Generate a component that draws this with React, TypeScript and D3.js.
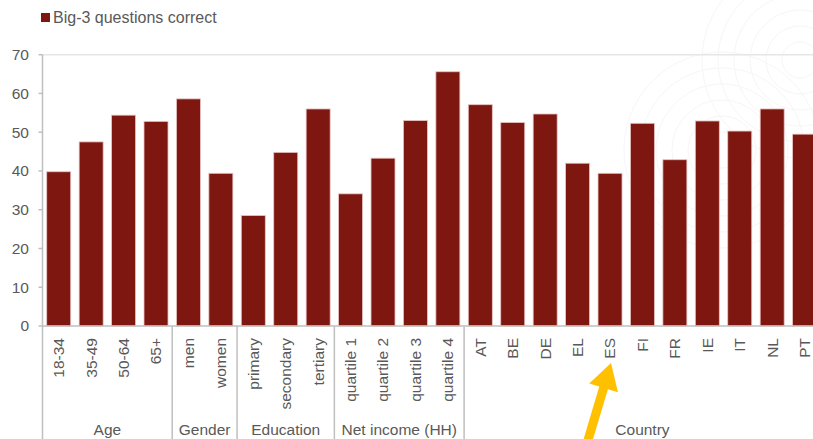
import React from "react";
import * as d3 from "d3";

const categories = [
  "18-34", "35-49", "50-64", "65+",
  "men", "women",
  "primary", "secondary", "tertiary",
  "quartile 1", "quartile 2", "quartile 3", "quartile 4",
  "AT", "BE", "DE", "EL", "ES", "FI", "FR", "IE", "IT", "NL", "PT",
];
const values = [
  39.8, 47.5, 54.4, 52.8,
  58.6, 39.4,
  28.5, 44.8, 56.0,
  34.1, 43.3, 53.0, 65.6,
  57.1, 52.5, 54.7, 42.0, 39.4, 52.3, 42.9, 52.9, 50.3, 56.0, 49.5,
];
const groupNames = ["Age", "Gender", "Education", "Net income (HH)", "Country"];
const groupSizes = [4, 2, 3, 4, 11];
const yTicks = [0, 10, 20, 30, 40, 50, 60, 70];
const seriesName = "Big-3 questions correct";
const highlighted = "ES";

const W = 813;
const H = 439;
const FONT = "'Liberation Sans', Arial, sans-serif";
const TXT = "#595959";
const AXIS = "#bfbfbf";
const BAR = "#7e1710";

export default function App() {
  const left = 42.5;
  const step = 32.43;
  const x = d3
    .scaleBand<string>()
    .domain(categories)
    .range([left, left + step * categories.length])
    .paddingInner(0.26)
    .paddingOuter(0.13);
  const y = d3.scaleLinear().domain([0, 70]).range([326, 54.7]);
  const y0 = y(0);

  const bounds: number[] = [];
  let idx = 0;
  const groups = groupSizes.map((n, gi) => {
    const first = categories[idx];
    const last = categories[idx + n - 1];
    const start = (x(first) as number) - (x.step() * x.paddingInner()) / 2;
    const end = (x(last) as number) + x.bandwidth() + (x.step() * x.paddingInner()) / 2;
    idx += n;
    bounds.push(end);
    return { name: groupNames[gi], start: gi === 0 ? left : start, end };
  });

  const hx = (x(highlighted) as number) + x.bandwidth() / 2;
  const tip = { x: hx + 1, y: 363 };
  const tail = { x: hx - 22, y: 440 };
  const dx = tip.x - tail.x;
  const dy = tip.y - tail.y;
  const len = Math.sqrt(dx * dx + dy * dy);
  const ux = dx / len, uy = dy / len;
  const px = -uy, py = ux;
  const headLen = 26, headHalf = 15, shaftHalf = 4.5;
  const bx = tip.x - ux * headLen, by = tip.y - uy * headLen;
  const arrowPts = [
    [tail.x + px * shaftHalf, tail.y + py * shaftHalf],
    [bx + px * shaftHalf, by + py * shaftHalf],
    [bx + px * headHalf, by + py * headHalf],
    [tip.x, tip.y],
    [bx - px * headHalf, by - py * headHalf],
    [bx - px * shaftHalf, by - py * shaftHalf],
    [tail.x - px * shaftHalf, tail.y - py * shaftHalf],
  ];

  const rings = [18, 34, 50, 66, 82, 98];

  return (
    <svg
      width={W}
      height={H}
      style={{ position: "absolute", left: 0, top: 0, background: "#fff" }}
      fontFamily={FONT}
    >
      <g fill="none" stroke="#f6f6f6" strokeWidth={1}>
        {rings.map((r) => (
          <circle key={"a" + r} cx={722} cy={150} r={r} />
        ))}
        {rings.map((r) => (
          <circle key={"b" + r} cx={800} cy={60} r={r} />
        ))}
      </g>

      <rect x={41} y={13} width={9} height={9} fill={BAR} />
      <text x={53} y={23} fontSize={16} fill={TXT}>
        {seriesName}
      </text>

      <line x1={left} x2={W} y1={y(70)} y2={y(70)} stroke="#e6e6e6" strokeWidth={1.5} />

      {categories.map((c, i) => (
        <rect
          key={c}
          x={x(c)}
          y={y(values[i])}
          width={x.bandwidth()}
          height={y0 - y(values[i])}
          fill={BAR}
          stroke="#e9c3c3"
          strokeWidth={0.8}
        />
      ))}

      <line x1={left} x2={left} y1={y(70)} y2={H} stroke={AXIS} strokeWidth={1.5} />
      {yTicks.map((t) => (
        <g key={t}>
          <line x1={left - 4} x2={left} y1={y(t)} y2={y(t)} stroke={AXIS} strokeWidth={1.5} />
          <text x={29} y={y(t)} dy="0.35em" textAnchor="end" fontSize={15.5} fill={TXT}>
            {t}
          </text>
        </g>
      ))}

      <line x1={left} x2={W} y1={y0} y2={y0} stroke={AXIS} strokeWidth={1.5} />

      {bounds.slice(0, -1).map((b, i) => (
        <line key={i} x1={b} x2={b} y1={y0} y2={H} stroke={AXIS} strokeWidth={1.5} />
      ))}

      {categories.map((c) => {
        const cx = (x(c) as number) + x.bandwidth() / 2;
        return (
          <text
            key={c}
            transform={`translate(${cx},338) rotate(-90)`}
            textAnchor="end"
            dy="0.35em"
            fontSize={15.5}
            fill={TXT}
          >
            {c}
          </text>
        );
      })}

      {groups.map((g) => (
        <text
          key={g.name}
          x={(g.start + g.end) / 2}
          y={435}
          textAnchor="middle"
          fontSize={15.5}
          fill={TXT}
        >
          {g.name}
        </text>
      ))}

      <polygon points={arrowPts.map((p) => p.join(",")).join(" ")} fill="#ffc000" />
    </svg>
  );
}
